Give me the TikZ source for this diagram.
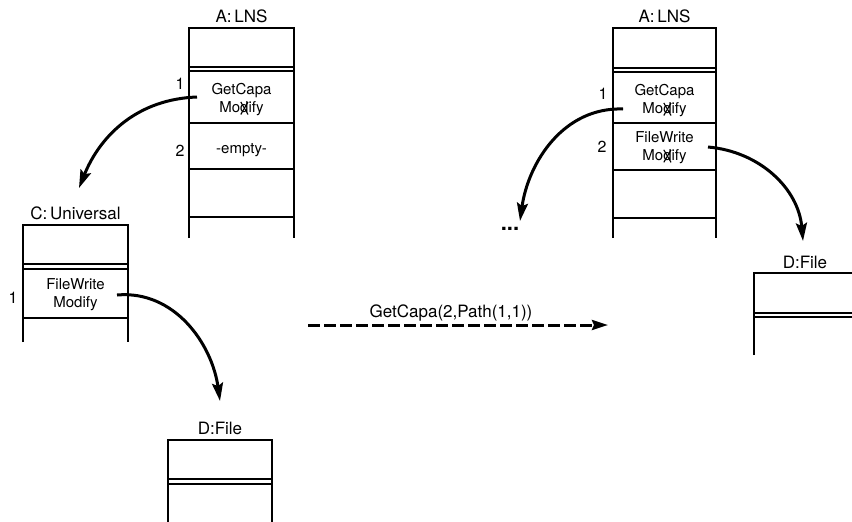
\documentclass[tikz,border=0pt]{standalone}
\usepackage{fontspec}
\setmainfont{TeX Gyre Heros}
\usetikzlibrary{arrows.meta}
% a "d" struck out by two crossing strokes
\newcommand\strokeA{\rotatebox[origin=c]{30}{\rule[-2.5pt]{1.1pt}{14.5pt}}}
\newcommand\strokeB{\rotatebox[origin=c]{-30}{\rule[-2.5pt]{1.1pt}{14.5pt}}}
\newcommand\crossd{\ooalign{d\cr\hidewidth\strokeA\hidewidth\cr\hidewidth\strokeB\hidewidth\cr}}

\begin{document}
\begin{tikzpicture}[x=1pt,y=-1pt,
  frame/.style={line width=1.3pt},
  title/.style={font=\fontsize{17}{17}\selectfont, inner sep=0pt, anchor=base},
  cell/.style={font=\fontsize{15}{18}\selectfont, align=center, inner sep=0pt},
  idx/.style={font=\fontsize{16}{16}\selectfont, inner sep=0pt},
  link/.style={line width=3pt, -{Stealth[length=18pt,width=11pt,inset=3pt]}},
  msg/.style={line width=3pt, dash pattern=on 12pt off 4pt,
              -{Stealth[length=16pt,width=10pt,inset=2pt]}}]

\useasboundingbox (0,0) rectangle (852,522);

% ---------- A: LNS (before) ----------
\draw[frame] (189,238) -- (189,28) -- (294,28) -- (294,238);
\foreach \y in {67,71,123,169,217} \draw[frame] (189,\y) -- (294,\y);
\node[title] (lnsA) at (241.5,23) {A:\,LNS};
\node[cell] (a1) at (241.5,100) {GetCapa\\Mo\crossd ify};
\node[cell] (a2) at (241.5,150) {-empty-};
\node[idx] (ia1) at (180,84) {1};
\node[idx] (ia2) at (180,151) {2};
\coordinate (a1s) at (197,97);

% ---------- C: Universal ----------
\draw[frame] (23,342) -- (23,225) -- (128,225) -- (128,342);
\foreach \y in {264,269,318} \draw[frame] (23,\y) -- (128,\y);
\node[title] (univ) at (75.5,219) {C:\,Universal};
\node[cell] (c1) at (75.5,295) {FileWrite\\Modify};
\node[idx] (ic1) at (13,298) {1};
\coordinate (c1s) at (117,295);
\coordinate (cin) at (79,188);

% ---------- D: File (left) ----------
\draw[frame] (168,522) -- (168,440) -- (272,440) -- (272,522);
\foreach \y in {479,484} \draw[frame] (168,\y) -- (272,\y);
\node[title] (fileL) at (220,434) {D:File};
\coordinate (din) at (220,401);

% ---------- A: LNS (after) ----------
\draw[frame] (613,238) -- (613,28) -- (716,28) -- (716,238);
\foreach \y in {68,72,123,170,218} \draw[frame] (613,\y) -- (716,\y);
\node[title] (lnsB) at (664.5,23) {A:\,LNS};
\node[cell] (b1) at (664.5,101) {GetCapa\\Mo\crossd ify};
\node[cell] (b2) at (664.5,148) {FileWrite\\Mo\crossd ify};
\node[idx] (ib1) at (603,94) {1};
\node[idx] (ib2) at (602,147) {2};
\coordinate (b1s) at (623,109);
\coordinate (b2s) at (708,147);
\node[font=\fontsize{22}{22}\selectfont\bfseries, inner sep=0pt] (more) at (510,229) {...};
\coordinate (moreIn) at (520,221);

% ---------- D: File (right) ----------
\draw[frame] (754,355) -- (754,273) -- (852,273);
\foreach \y in {313,317} \draw[frame] (754,\y) -- (852,\y);
\node[title] (fileR) at (805,268) {D:File};
\coordinate (dRin) at (803,241);

% ---------- capability links ----------
\draw[link] (a1s) to[out=182, in=68] (cin);
\draw[link] (c1s) to[out=5, in=98] (din);
\draw[link] (b1s) to[out=178, in=82] (moreIn);
\draw[link] (b2s) to[out=-5, in=95] (dRin);

% ---------- message ----------
\coordinate (mFrom) at (308,325);
\coordinate (mTo) at (608,325);
\draw[msg] (mFrom) -- (mTo);
\node[font=\fontsize{17}{17}\selectfont, inner sep=0pt] (mlabel) at (451,313) {GetCapa(2,Path(1,1))};

\end{tikzpicture}
\end{document}
